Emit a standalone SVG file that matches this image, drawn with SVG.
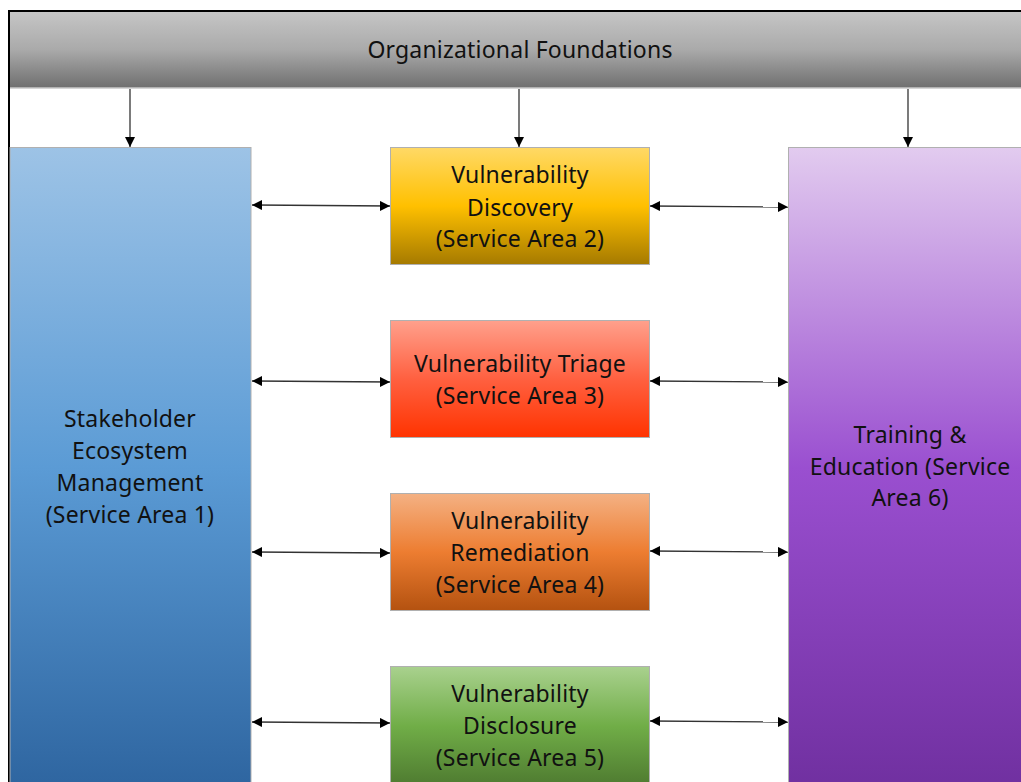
<svg xmlns="http://www.w3.org/2000/svg" width="1021" height="782" viewBox="0 0 1021 782">
<defs>
<linearGradient id="gGray" x1="0" y1="0" x2="0" y2="1"><stop offset="0" stop-color="#c6c6c6"/><stop offset="0.5" stop-color="#aaaaaa"/><stop offset="1" stop-color="#6f6f6f"/></linearGradient>
<linearGradient id="gBlue" x1="0" y1="0" x2="0" y2="1"><stop offset="0" stop-color="#9dc3e6"/><stop offset="0.5" stop-color="#5b9bd5"/><stop offset="1" stop-color="#2e65a0"/></linearGradient>
<linearGradient id="gPurple" x1="0" y1="0" x2="0" y2="1"><stop offset="0" stop-color="#e2cbef"/><stop offset="0.5" stop-color="#9a4fd0"/><stop offset="1" stop-color="#7030a0"/></linearGradient>
<linearGradient id="gYellow" x1="0" y1="0" x2="0" y2="1"><stop offset="0" stop-color="#ffd966"/><stop offset="0.5" stop-color="#ffc000"/><stop offset="1" stop-color="#a57a00"/></linearGradient>
<linearGradient id="gRed" x1="0" y1="0" x2="0" y2="1"><stop offset="0" stop-color="#ffa08c"/><stop offset="0.5" stop-color="#ff6040"/><stop offset="1" stop-color="#ff3300"/></linearGradient>
<linearGradient id="gOrange" x1="0" y1="0" x2="0" y2="1"><stop offset="0" stop-color="#f4b183"/><stop offset="0.5" stop-color="#ed7d31"/><stop offset="1" stop-color="#b45210"/></linearGradient>
<linearGradient id="gGreen" x1="0" y1="0" x2="0" y2="1"><stop offset="0" stop-color="#a9d18e"/><stop offset="0.5" stop-color="#70ad47"/><stop offset="1" stop-color="#4e7a30"/></linearGradient>
<marker id="ah" viewBox="0 0 10 10" refX="10" refY="5" markerWidth="10" markerHeight="10" markerUnits="userSpaceOnUse" orient="auto-start-reverse"><path d="M0,0 L10,5 L0,10 z" fill="#000"/></marker>
<style>
.box{stroke:#b0b0b0;stroke-width:1}
.t{font-family:"Noto Sans","Open Sans",sans-serif;font-size:23px;letter-spacing:0.2px;fill:#111;text-anchor:middle}
.c{stroke:#333;stroke-width:1.3;fill:none}
</style>
</defs>
<rect width="1021" height="782" fill="#fff"/>
<g id="foundations">
<rect x="9" y="11" width="1012" height="77" fill="url(#gGray)"/>
<line x1="9" y1="88" x2="1021" y2="88" stroke="#c8c8c8" stroke-width="1.5"/>
<text class="t" x="520" y="58">Organizational Foundations</text>
</g>
<path d="M9,782 L9,11 L1021,11" fill="none" stroke="#000" stroke-width="2"/>
<g id="sa1">
<rect class="box" x="10" y="147.5" width="241" height="640" fill="url(#gBlue)"/>
<text class="t" x="130" y="427">Stakeholder</text>
<text class="t" x="130" y="459">Ecosystem</text>
<text class="t" x="130" y="491">Management</text>
<text class="t" x="130" y="523">(Service Area 1)</text>
</g>
<g id="sa6">
<rect class="box" x="788.5" y="147.5" width="240" height="640" fill="url(#gPurple)"/>
<text class="t" x="910" y="443">Training &amp;</text>
<text class="t" x="910" y="475">Education (Service</text>
<text class="t" x="910" y="506">Area 6)</text>
</g>
<g id="sa2">
<rect class="box" x="390.5" y="147.5" width="259" height="117" fill="url(#gYellow)"/>
<text class="t" x="520" y="183">Vulnerability</text>
<text class="t" x="520" y="216">Discovery</text>
<text class="t" x="520" y="247">(Service Area 2)</text>
</g>
<g id="sa3">
<rect class="box" x="390.5" y="320.5" width="259" height="117" fill="url(#gRed)"/>
<text class="t" x="520" y="372">Vulnerability Triage</text>
<text class="t" x="520" y="404">(Service Area 3)</text>
</g>
<g id="sa4">
<rect class="box" x="390.5" y="493.5" width="259" height="117" fill="url(#gOrange)"/>
<text class="t" x="520" y="529">Vulnerability</text>
<text class="t" x="520" y="561">Remediation</text>
<text class="t" x="520" y="593">(Service Area 4)</text>
</g>
<g id="sa5">
<rect class="box" x="390.5" y="666.5" width="259" height="120" fill="url(#gGreen)"/>
<text class="t" x="520" y="702">Vulnerability</text>
<text class="t" x="520" y="734">Disclosure</text>
<text class="t" x="520" y="766">(Service Area 5)</text>
</g>
<g id="connectors">
<line class="c" x1="130" y1="89" x2="130" y2="147" marker-end="url(#ah)"/>
<line class="c" x1="519" y1="89" x2="519" y2="147" marker-end="url(#ah)"/>
<line class="c" x1="908" y1="89" x2="908" y2="147" marker-end="url(#ah)"/>
<line class="c" x1="252" y1="205" x2="390" y2="206" marker-start="url(#ah)" marker-end="url(#ah)"/>
<line class="c" x1="650" y1="206" x2="788" y2="207" marker-start="url(#ah)" marker-end="url(#ah)"/>
<line class="c" x1="252" y1="381" x2="390" y2="382" marker-start="url(#ah)" marker-end="url(#ah)"/>
<line class="c" x1="650" y1="381" x2="788" y2="382" marker-start="url(#ah)" marker-end="url(#ah)"/>
<line class="c" x1="252" y1="552" x2="390" y2="553" marker-start="url(#ah)" marker-end="url(#ah)"/>
<line class="c" x1="650" y1="551" x2="788" y2="552" marker-start="url(#ah)" marker-end="url(#ah)"/>
<line class="c" x1="252" y1="722" x2="390" y2="723" marker-start="url(#ah)" marker-end="url(#ah)"/>
<line class="c" x1="650" y1="721" x2="788" y2="722" marker-start="url(#ah)" marker-end="url(#ah)"/>
</g>
</svg>
